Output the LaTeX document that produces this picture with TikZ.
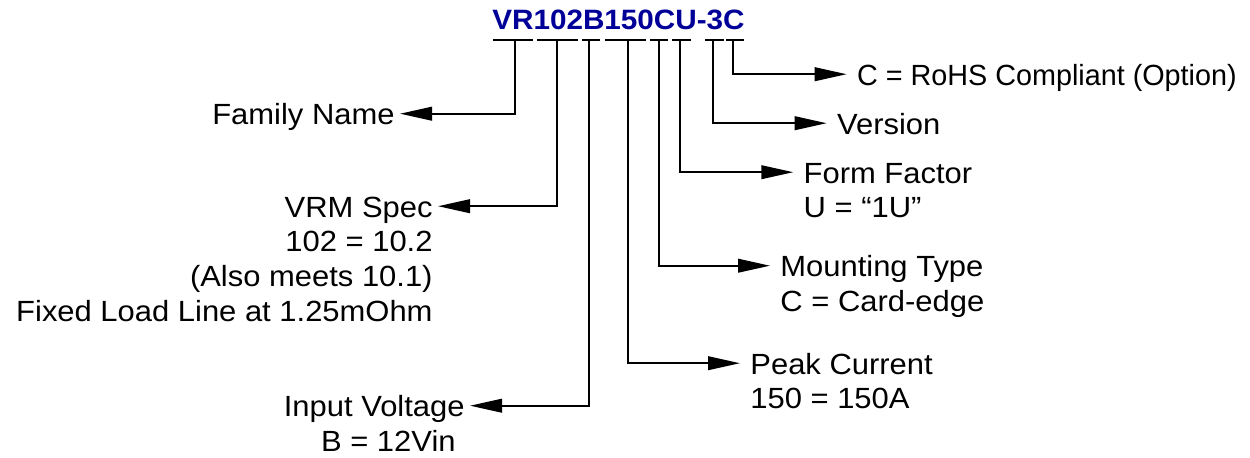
\documentclass[tikz,border=0pt]{standalone}
\usepackage{fontspec}
\setmainfont{Liberation Sans}[FakeStretch=1.06]
\newfontfamily\narrowsans{Liberation Sans}[FakeStretch=0.985]
\usepackage{tikz}
\usetikzlibrary{arrows.meta,positioning}
\definecolor{partblue}{RGB}{0, 0, 153}
% label lines, baseline on the first line
\newcommand{\rlines}[1]{\begin{tabular}[t]{@{}r@{}}#1\end{tabular}}
\newcommand{\llines}[1]{\begin{tabular}[t]{@{}l@{}}#1\end{tabular}}

\begin{document}
\begin{tikzpicture}[x=0.5pt, y=-0.5pt,
  partno/.style={text=partblue, font=\fontsize{14pt}{16pt}\selectfont\bfseries, inner sep=0pt, anchor=base},
  leftlbl/.style={font=\fontsize{14.6pt}{17.35pt}\selectfont, anchor=base east, inner xsep=2.5pt, inner ysep=0pt},
  rightlbl/.style={font=\fontsize{14.6pt}{17.35pt}\selectfont, anchor=base west, inner xsep=5pt, inner ysep=0pt},
  tick/.style={line width=1pt},
  flow/.style={line width=1pt, -{Triangle[length=16pt, width=6.8pt]}}
]
\useasboundingbox (0,0) rectangle (1250,457);

\node[partno] (pn) at (618.5,29.5) {VR102B150CU-3C};

% one underscore per field of the part number
\draw[tick] (493,40) -- (533,40) (537,40) -- (578,40) (582,40) -- (600,40) (605,40) -- (646,40)
  (650,40) -- (668,40) (672,40) -- (691,40) (705,40) -- (724,40) (725.5,40) -- (744,40);

\coordinate (fFamily) at (515,40);
\coordinate (fSpec) at (557,40);
\coordinate (fVin) at (589,40);
\coordinate (fPeak) at (627.5,40);
\coordinate (fMount) at (659,40);
\coordinate (fForm) at (680,40);
\coordinate (fVer) at (713,40);
\coordinate (fRohs) at (732.7,40);

% labels
\node[leftlbl] (family) at (400,124.5) {Family Name};
\node[leftlbl] (vrm) at (438,217) {\rlines{VRM Spec\\102 = 10.2\\(Also meets 10.1)\\Fixed Load Line at 1.25mOhm}};
\node[leftlbl] (vin) at (470,416.5) {\rlines{Input Voltage\\B = 12Vin\hspace*{4.5pt}}};
\node[rightlbl, font=\fontsize{14.6pt}{17.35pt}\selectfont\narrowsans] (rohs) at (846.7,85) {C = RoHS Compliant (Option)};
\node[rightlbl] (version) at (826.7,134) {Version};
\node[rightlbl] (form) at (793.3,183) {\llines{Form Factor\\U = “1U”}};
\node[rightlbl] (mount) at (770,276.5) {\llines{Mounting Type\\C = Card-edge}};
\node[rightlbl] (peak) at (740,374) {\llines{Peak Current\\150 = 150A}};

% connectors
\draw[flow] (fFamily) |- ([yshift=5.4pt]family.base east);
\draw[flow] (fSpec) |- ([yshift=5.4pt]vrm.base east);
\draw[flow] (fVin) |- ([yshift=5.4pt]vin.base east);
\draw[flow] (fPeak) |- ([yshift=5.4pt]peak.base west);
\draw[flow] (fMount) |- ([yshift=5.4pt]mount.base west);
\draw[flow] (fForm) |- ([yshift=5.4pt]form.base west);
\draw[flow] (fVer) |- ([yshift=5.4pt]version.base west);
\draw[flow] (fRohs) |- ([yshift=5.4pt]rohs.base west);

\end{tikzpicture}
\end{document}
